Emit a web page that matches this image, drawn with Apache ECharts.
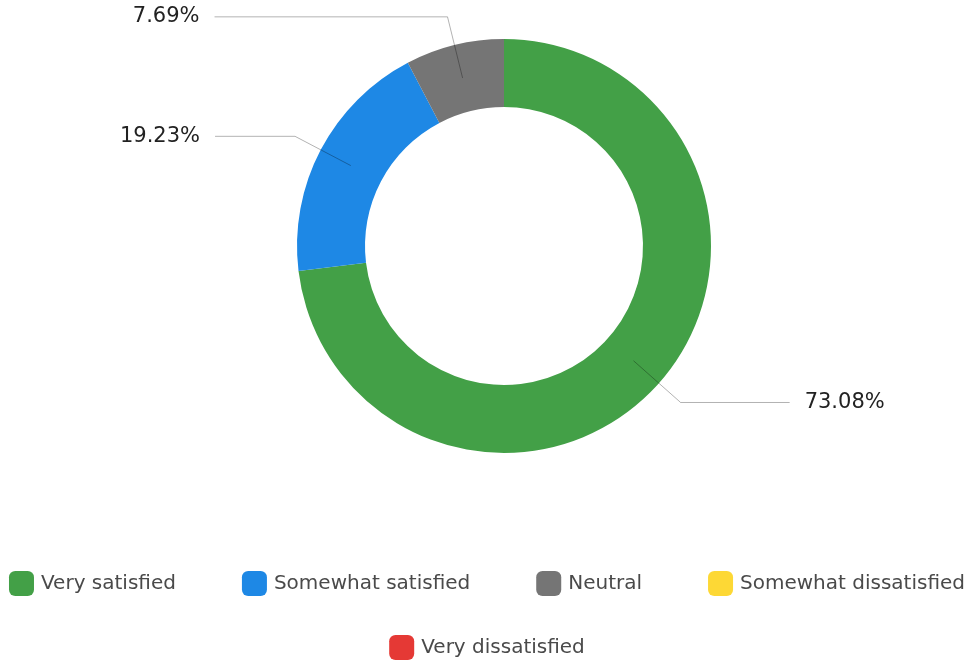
<!DOCTYPE html>
<html>
<head>
<meta charset="utf-8">
<title>Satisfaction</title>
<script src="https://cdn.jsdelivr.net/npm/echarts@6/dist/echarts.min.js"></script>
<style>
  html, body { margin: 0; padding: 0; background: #ffffff; }
  #chart { width: 974px; height: 662px; }
</style>
</head>
<body>
<div id="chart"></div>
<script>
// Survey answers
const categories = ['Very satisfied', 'Somewhat satisfied', 'Neutral', 'Somewhat dissatisfied', 'Very dissatisfied'];
const responses = [19, 5, 2, 0, 0];
const sliceColors = ['#43a047', '#1e88e5', '#757575', '#fdd835', '#e53935'];

// horizontal tail of each leader line (px)
const leaderTail = [109, 80, 233, 20, 20];

const total = responses.reduce((a, b) => a + b, 0);
const center = [504, 246];

const ringData = categories.map((name, i) => ({
  name,
  value: responses[i],
  itemStyle: { color: sliceColors[i] }
}));

// invisible inner pie that carries the percentage labels so the
// leader lines begin in the middle of the ring
const labelData = categories.map((name, i) => ({
  name,
  value: responses[i],
  itemStyle: { color: 'rgba(0,0,0,0)' },
  label: { show: responses[i] > 0 },
  labelLine: { show: responses[i] > 0, length2: leaderTail[i] }
}));

const chart = echarts.init(document.getElementById('chart'), null, { renderer: 'canvas' });

const legendText = {
  color: '#4a4a4a',
  fontSize: 20,
  fontFamily: '"DejaVu Sans", sans-serif',
  padding: [0, 0, 0, 2]
};

chart.setOption({
  animation: false,
  backgroundColor: '#ffffff',
  legend: [
    {
      data: categories.slice(0, 4),
      top: 566,
      left: 'center',
      icon: 'roundRect',
      itemWidth: 25,
      itemHeight: 25,
      itemGap: 66,
      textStyle: legendText,
      selectedMode: false
    },
    {
      data: categories.slice(4),
      top: 630,
      left: 'center',
      icon: 'roundRect',
      itemWidth: 25,
      itemHeight: 25,
      textStyle: legendText,
      selectedMode: false
    }
  ],
  series: [
    {
      name: 'Satisfaction',
      type: 'pie',
      center: center,
      radius: [139, 207],
      startAngle: 90,
      clockwise: true,
      label: { show: false },
      labelLine: { show: false },
      emphasis: { disabled: true },
      data: ringData
    },
    {
      name: 'Share',
      type: 'pie',
      center: center,
      radius: [0, 173],
      startAngle: 90,
      clockwise: true,
      silent: true,
      z: 3,
      emphasis: { disabled: true },
      avoidLabelOverlap: false,
      label: {
        show: true,
        position: 'outside',
        alignTo: 'none',
        distanceToLabelLine: 15,
        formatter: p => (p.value / total * 100).toFixed(2) + '%',
        color: '#222222',
        fontSize: 21,
        fontFamily: '"DejaVu Sans", sans-serif'
      },
      labelLine: {
        show: true,
        length: 63,
        length2: 80,
        lineStyle: { color: 'rgba(0,0,0,0.3)', width: 1 }
      },
      data: labelData
    }
  ]
});
</script>
</body>
</html>
